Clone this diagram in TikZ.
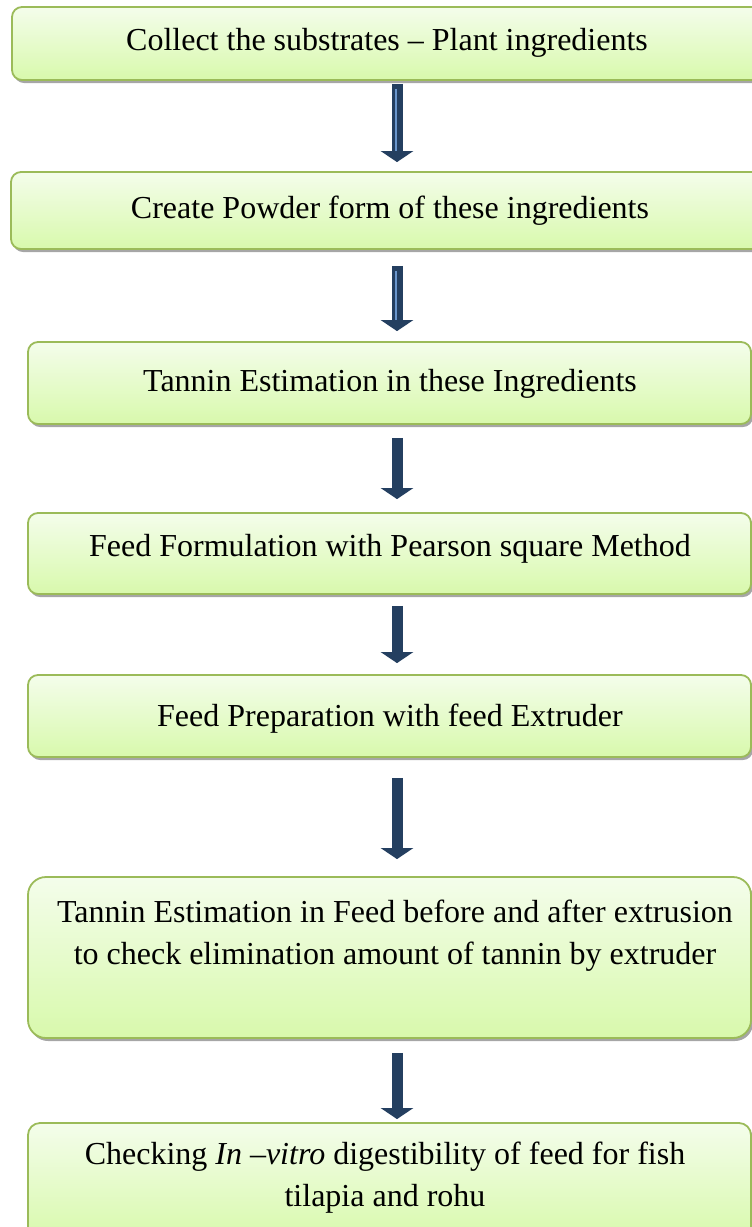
\documentclass[tikz,border=0pt]{standalone}
\usepackage{fontspec}
\setmainfont{Liberation Serif}
\usetikzlibrary{shadows,arrows.meta,calc}
\definecolor{boxborder}{HTML}{9BBB59}
\definecolor{boxtop}{HTML}{F4FDEB}
\definecolor{boxbot}{HTML}{D8F9AC}
\definecolor{navy}{HTML}{243F60}
\definecolor{stripe}{HTML}{6A96CC}
\definecolor{shadowgray}{HTML}{A6A6A6}
\begin{document}
\begin{tikzpicture}[x=1pt,y=-1pt,
  stepbox/.style={draw=boxborder, line width=1.8pt, rounded corners=10pt,
    top color=boxtop, bottom color=boxbot, inner sep=0pt,
    drop shadow={shadow xshift=2pt, shadow yshift=-3pt, fill=shadowgray, opacity=1}},
  steptext/.style={font=\fontsize{32}{41.6}\selectfont, inner sep=0pt, align=center, anchor=base},
  flowarrow/.style={draw=navy, line width=11pt, -{Triangle[width=32pt,length=11pt]}},
  stripeline/.style={draw=stripe, line width=2pt}]
\useasboundingbox (0,0) rectangle (752,1227);
\coordinate (ax) at (397,0);
% boxes
\node[stepbox, minimum width=758pt, minimum height=73pt] (b1) at (391,43.5) {};
\node[stepbox, minimum width=759pt, minimum height=77pt] (b2) at (390.5,210.5) {};
\node[stepbox, minimum width=723pt, minimum height=82pt] (b3) at (389.5,383) {};
\node[stepbox, minimum width=723pt, minimum height=81pt] (b4) at (389.5,553.5) {};
\node[stepbox, minimum width=723pt, minimum height=82pt] (b5) at (389.5,716) {};
\node[stepbox, rounded corners=18pt, minimum width=723pt, minimum height=161pt] (b6) at (389.5,957.5) {};
\node[stepbox, rounded corners=12pt, minimum width=723pt, minimum height=117pt] (b7) at (389.5,1181.5) {};
% texts
\node[steptext] (t1) at (387,50) {Collect the substrates – Plant ingredients};
\node[steptext] (t2) at (390,218) {Create Powder form of these ingredients};
\node[steptext] (t3) at (390,391) {Tannin Estimation in these Ingredients};
\node[steptext] (t4) at (390,556) {Feed Formulation with Pearson square Method};
\node[steptext] (t5) at (390,726) {Feed Preparation with feed Extruder};
\node[steptext] (t6) at (395,964) {Tannin Estimation in Feed before and after extrusion\\to check elimination amount of tannin by extruder};
\node[steptext] (t7) at (385,1206) {Checking \textit{In –vitro} digestibility of feed for fish\\tilapia and rohu};
% arrows
\draw[flowarrow] ($(b1.south -| ax)+(0,3)$) -- ($(b2.north -| ax)+(0,-9)$);
\draw[stripeline] ($(b1.south -| ax)+(-1,8)$) -- ($(b2.north -| ax)+(-1,-20)$);
\draw[flowarrow] ($(b2.south -| ax)+(0,16)$) -- ($(b3.north -| ax)+(0,-10)$);
\draw[stripeline] ($(b2.south -| ax)+(-1,21)$) -- ($(b3.north -| ax)+(-1,-21)$);
\draw[flowarrow] ($(b3.south -| ax)+(0,13)$) -- ($(b4.north -| ax)+(0,-13)$);
\draw[flowarrow] ($(b4.south -| ax)+(0,11)$) -- ($(b5.north -| ax)+(0,-11)$);
\draw[flowarrow] ($(b5.south -| ax)+(0,20)$) -- ($(b6.north -| ax)+(0,-17)$);
\draw[flowarrow] ($(b6.south -| ax)+(0,14)$) -- ($(b7.north -| ax)+(0,-3)$);
\end{tikzpicture}
\end{document}
